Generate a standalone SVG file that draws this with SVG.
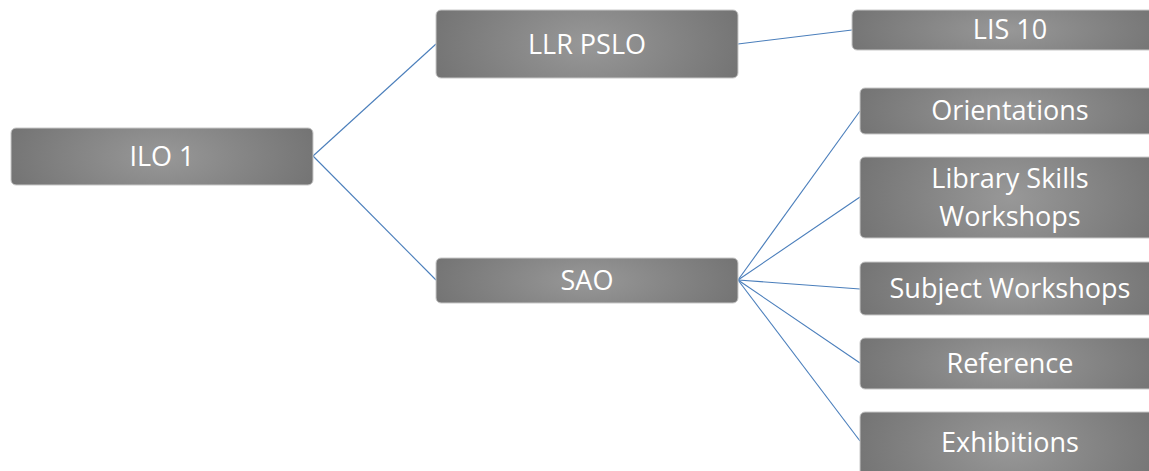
<svg xmlns="http://www.w3.org/2000/svg" width="1149" height="471" viewBox="0 0 1149 471">
<defs>
<radialGradient id="g" cx="0.5" cy="0.5" r="0.6" gradientTransform="translate(0.5 0.5) scale(1 2.5) translate(-0.5 -0.5)">
<stop offset="0" stop-color="#989898"/>
<stop offset="1" stop-color="#6f6f6f"/>
</radialGradient>
<style>
.box{fill:url(#g);stroke:#c8c8c8;stroke-width:1}
.t{font-family:"Open Sans","Liberation Sans",sans-serif;font-size:27px;fill:#ffffff;text-anchor:middle;dominant-baseline:central}
.c{stroke:#4a7ebb;stroke-width:1.1;fill:none}
</style>
</defs>
<rect width="1149" height="471" fill="#ffffff"/>
<g id="connectors">
<line class="c" x1="313" y1="156" x2="436" y2="44"/>
<line class="c" x1="313" y1="156" x2="436" y2="280"/>
<line class="c" x1="738" y1="44" x2="852" y2="30"/>
<line class="c" x1="738" y1="280" x2="860" y2="111"/>
<line class="c" x1="738" y1="280" x2="860" y2="197"/>
<line class="c" x1="738" y1="280" x2="860" y2="289"/>
<line class="c" x1="738" y1="280" x2="860" y2="363"/>
<line class="c" x1="738" y1="280" x2="860" y2="441"/>
</g>
<g id="ilo1"><rect class="box" x="11" y="128" width="302" height="57" rx="5"/><text class="t" x="162" y="155">ILO 1</text></g>
<g id="llrpslo"><rect class="box" x="436" y="10" width="302" height="68" rx="5"/><text class="t" x="587" y="43">LLR PSLO</text></g>
<g id="sao"><rect class="box" x="436" y="258" width="302" height="45" rx="5"/><text class="t" x="587" y="279">SAO</text></g>
<g id="lis10"><rect class="box" x="852" y="10" width="310" height="40" rx="5"/><text class="t" x="1010" y="28">LIS 10</text></g>
<g id="orientations"><rect class="box" x="860" y="88" width="300" height="46" rx="5"/><text class="t" x="1010" y="109">Orientations</text></g>
<g id="libskills"><rect class="box" x="860" y="157" width="300" height="81" rx="5"/><text class="t" x="1010" y="177">Library Skills</text><text class="t" x="1010" y="215">Workshops</text></g>
<g id="subject"><rect class="box" x="860" y="262" width="300" height="53" rx="5"/><text class="t" x="1010" y="287">Subject Workshops</text></g>
<g id="reference"><rect class="box" x="860" y="338" width="300" height="51" rx="5"/><text class="t" x="1010" y="362">Reference</text></g>
<g id="exhibitions"><rect class="box" x="860" y="412" width="300" height="70" rx="5"/><text class="t" x="1010" y="441">Exhibitions</text></g>
</svg>
